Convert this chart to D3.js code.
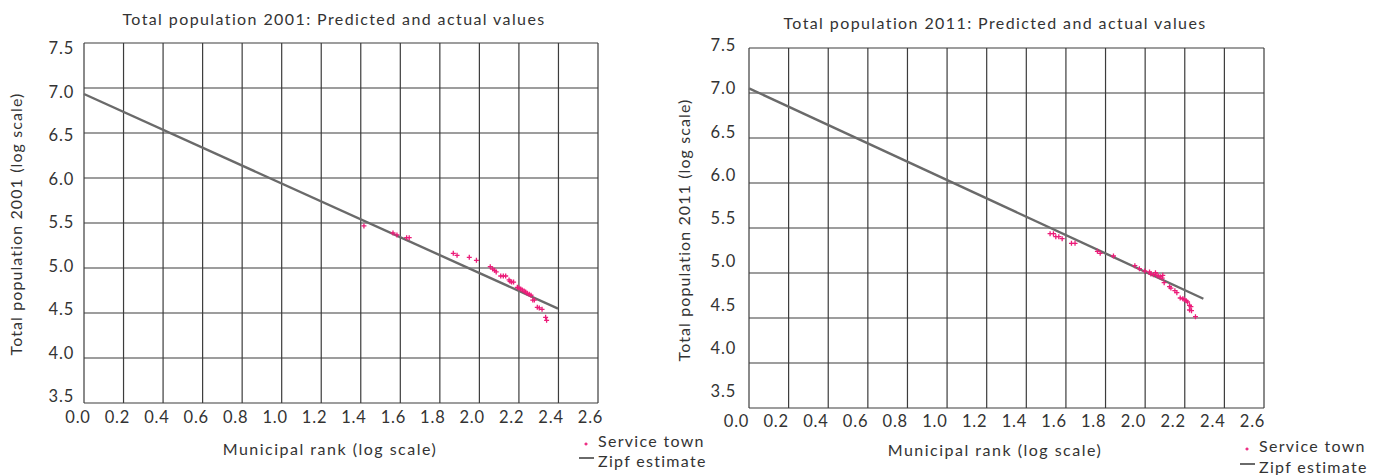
<!DOCTYPE html>
<html>
<head>
<meta charset="utf-8">
<script src="https://cdn.jsdelivr.net/npm/d3@7"></script>
<style>
  html, body { margin: 0; padding: 0; background: #fff; }
  svg text { font-family: Lato, "Noto Sans", sans-serif; fill: #333; }
</style>
</head>
<body>
<svg id="chart" width="1386" height="475"></svg>
<script>
// ---------------- DATA ----------------
const xTickValues = [0.0, 0.2, 0.4, 0.6, 0.8, 1.0, 1.2, 1.4, 1.6, 1.8, 2.0, 2.2, 2.4, 2.6];
const yTickValues = [3.5, 4.0, 4.5, 5.0, 5.5, 6.0, 6.5, 7.0, 7.5];

const titles = ["Total population 2001: Predicted and actual values",
                "Total population 2011: Predicted and actual values"];
const yTitles = ["Total population 2001 (log scale)", "Total population 2011 (log scale)"];
const xTitle = "Municipal rank (log scale)";
const legendLabels = ["Service town", "Zipf estimate"];

// Service towns 2001: log rank, log population
const rank2001 = [1.416, 1.563, 1.583, 1.632, 1.645, 1.868, 1.887, 1.949, 1.985, 2.055, 2.067, 2.077, 2.085,
  2.108, 2.121, 2.133, 2.150, 2.155, 2.163, 2.173, 2.192, 2.200, 2.209, 2.217, 2.226, 2.234, 2.242, 2.252, 2.261,
  2.270, 2.278, 2.293, 2.303, 2.317, 2.335, 2.340];
const pop2001 = [5.467, 5.389, 5.367, 5.337, 5.337, 5.163, 5.141, 5.119, 5.085, 5.015, 4.989, 4.974, 4.956,
  4.911, 4.911, 4.911, 4.867, 4.852, 4.844, 4.844, 4.785, 4.778, 4.767, 4.756, 4.744, 4.733, 4.719, 4.708, 4.697,
  4.644, 4.644, 4.563, 4.556, 4.541, 4.452, 4.419];

// Service towns 2011
const rank2011 = [1.520, 1.537, 1.549, 1.564, 1.581, 1.628, 1.646, 1.759, 1.773, 1.840, 1.948, 1.971, 1.998,
  2.022, 2.029, 2.042, 2.052, 2.059, 2.066, 2.076, 2.086, 2.089, 2.096, 2.123, 2.130, 2.150, 2.160,
  2.177, 2.190, 2.197, 2.207, 2.214, 2.224, 2.231, 2.224, 2.234, 2.254];
const pop2011 = [5.437, 5.437, 5.404, 5.404, 5.381, 5.330, 5.330, 5.241, 5.219, 5.189, 5.081, 5.048, 5.022,
  5.011, 4.989, 4.981, 5.004, 4.974, 4.967, 4.959, 4.944, 4.974, 4.893, 4.848, 4.833, 4.804, 4.781,
  4.722, 4.714, 4.707, 4.692, 4.678, 4.641, 4.626, 4.589, 4.581, 4.515];

// Zipf estimate lines (endpoints)
const zipfRank2001 = [0.0, 2.398];
const zipfPop2001 = [6.933, 4.548];
const zipfRank2011 = [0.0, 2.294];
const zipfPop2011 = [7.052, 4.714];

// ---------------- LAYOUT ----------------
const panels = [
  { title: titles[0], yTitle: yTitles[0], ranks: rank2001, pops: pop2001, zr: zipfRank2001, zp: zipfPop2001,
    x0: 84, x1: 598, y0: 43, y1: 403,
    lblX0: 78, lblX1: 590.5, lblXy: 417, lblY0: 396, lblY1: 48, lblYx: 74,
    titleX: 334, titleY: 18, yTitleX: 15, yTitleY: 224, xTitleX: 330, xTitleY: 448,
    legX: 586, legY1: 440, legY2: 460 },
  { title: titles[1], yTitle: yTitles[1], ranks: rank2011, pops: pop2011, zr: zipfRank2011, zp: zipfPop2011,
    x0: 749, x1: 1264, y0: 48, y1: 408,
    lblX0: 736.5, lblX1: 1252.5, lblXy: 421, lblY0: 391, lblY1: 45, lblYx: 736,
    titleX: 995, titleY: 22, yTitleX: 683, yTitleY: 230, xTitleX: 995, xTitleY: 449,
    legX: 1247, legY1: 445, legY2: 466 }
];

const svg = d3.select("#chart");
const pink = "#ec1c79";
const gridColor = "#3c3c3c";
const lineColor = "#6a6a6a";

panels.forEach(p => {
  const g = svg.append("g");
  const x = d3.scaleLinear().domain([0, 2.6]).range([p.x0, p.x1]);
  const y = d3.scaleLinear().domain([3.5, 7.5]).range([p.y1, p.y0]);
  // label positions (labels in the original are not exactly aligned to the grid)
  const xl = d3.scaleLinear().domain([0, 2.6]).range([p.lblX0, p.lblX1]);
  const yl = d3.scaleLinear().domain([3.5, 7.5]).range([p.lblY0, p.lblY1]);

  // grid
  g.append("g").selectAll("line.v").data(xTickValues).join("line")
    .attr("x1", d => x(d)).attr("x2", d => x(d))
    .attr("y1", p.y0).attr("y2", p.y1)
    .attr("stroke", gridColor).attr("stroke-width", 1.2);
  g.append("g").selectAll("line.h").data(yTickValues).join("line")
    .attr("y1", d => y(d)).attr("y2", d => y(d))
    .attr("x1", p.x0).attr("x2", p.x1)
    .attr("stroke", gridColor).attr("stroke-width", 1.2);

  // tick labels
  g.append("g").selectAll("text").data(xTickValues).join("text")
    .attr("x", d => xl(d)).attr("y", p.lblXy)
    .attr("text-anchor", "middle").attr("dominant-baseline", "central")
    .style("font-size", "16.5px").style("letter-spacing", "0.8px")
    .text(d => d3.format(".1f")(d));
  g.append("g").selectAll("text").data(yTickValues).join("text")
    .attr("x", p.lblYx).attr("y", d => yl(d))
    .attr("text-anchor", "end").attr("dominant-baseline", "central")
    .style("font-size", "16.5px").style("letter-spacing", "0.8px")
    .text(d => d3.format(".1f")(d));

  // zipf line
  const lineGen = d3.line().x(d => x(d[0])).y(d => y(d[1]));
  g.append("path").datum(p.zr.map((r, i) => [r, p.zp[i]]))
    .attr("d", lineGen).attr("fill", "none")
    .attr("stroke", lineColor).attr("stroke-width", 2.4);

  // points
  g.append("g").selectAll("path").data(p.ranks.map((r, i) => [r, p.pops[i]])).join("path")
    .attr("transform", d => `translate(${x(d[0])},${y(d[1])})`)
    .attr("d", "M-2.5,0H2.5M0,-2.5V2.5")
    .attr("stroke", pink).attr("stroke-width", 1.3).attr("fill", "none");

  // titles
  g.append("text").attr("x", p.titleX).attr("y", p.titleY)
    .attr("text-anchor", "middle").attr("dominant-baseline", "central")
    .style("font-size", "16px").style("letter-spacing", "1.4px").text(p.title);
  g.append("text").attr("x", p.xTitleX).attr("y", p.xTitleY)
    .attr("text-anchor", "middle").attr("dominant-baseline", "central")
    .style("font-size", "16px").style("letter-spacing", "1.5px").text(xTitle);
  g.append("text")
    .attr("transform", `translate(${p.yTitleX},${p.yTitleY}) rotate(-90)`)
    .attr("text-anchor", "middle").attr("dominant-baseline", "central")
    .style("font-size", "16px").style("letter-spacing", "1.1px").text(p.yTitle);

  // legend
  const lg = g.append("g");
  lg.append("path").attr("transform", `translate(${p.legX},${p.legY1 + 4})`)
    .attr("d", "M-1.5,0H1.5M0,-1.5V1.5")
    .attr("stroke", pink).attr("stroke-width", 1.3);
  lg.append("line").attr("x1", p.legX - 7).attr("x2", p.legX + 8)
    .attr("y1", p.legY2 - 2).attr("y2", p.legY2 - 2)
    .attr("stroke", lineColor).attr("stroke-width", 2);
  lg.append("text").attr("x", p.legX + 12).attr("y", p.legY1)
    .attr("dominant-baseline", "central").style("font-size", "16px").style("letter-spacing", "1.3px")
    .text(legendLabels[0]);
  lg.append("text").attr("x", p.legX + 12).attr("y", p.legY2)
    .attr("dominant-baseline", "central").style("font-size", "16px").style("letter-spacing", "1.3px")
    .text(legendLabels[1]);
});
</script>
</body>
</html>
